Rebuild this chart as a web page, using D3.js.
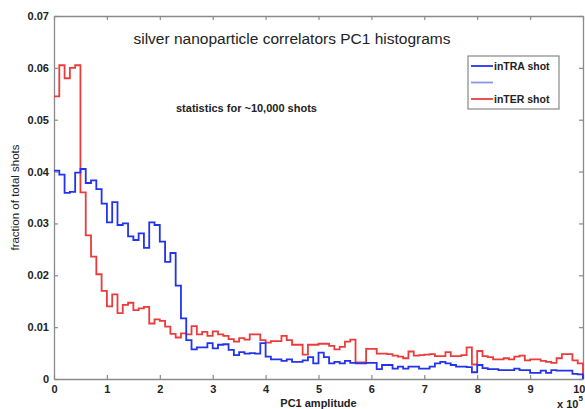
<!DOCTYPE html>
<html>
<head>
<meta charset="utf-8">
<script src="https://cdn.jsdelivr.net/npm/d3@7"></script>
<style>
  body { margin: 0; background: #fff; }
  text { font-family: "Liberation Sans", Arial, sans-serif; }
</style>
</head>
<body>
<div id="viz"></div>
<script>
// histogram bin width, in units of 1e5
const binWidth = 0.1;

// inTRA shot (blue), one value per bin starting at 0
const intraShot = [
  0.0402, 0.0394, 0.0359, 0.0361, 0.0398, 0.0405, 0.0378, 0.0383, 0.0366, 0.0338,
  0.0302, 0.0341, 0.0297, 0.0300, 0.0275, 0.0268, 0.0281, 0.0253, 0.0302, 0.0297,
  0.0265, 0.0226, 0.0243, 0.0180, 0.0117, 0.0075, 0.0057, 0.0061, 0.0061, 0.0069,
  0.0059, 0.0066, 0.0067, 0.0056, 0.0046, 0.0052, 0.0049, 0.0050, 0.0049, 0.0069,
  0.0043, 0.0038, 0.0038, 0.0035, 0.0038, 0.0033, 0.0033, 0.0036, 0.0042, 0.0030,
  0.0051, 0.0042, 0.0030, 0.0033, 0.0030, 0.0035, 0.0031, 0.0030, 0.0030, 0.0031,
  0.0031, 0.0019, 0.0027, 0.0027, 0.0020, 0.0024, 0.0020, 0.0024, 0.0024, 0.0020,
  0.0020, 0.0024, 0.0030, 0.0033, 0.0030, 0.0027, 0.0024, 0.0024, 0.0023, 0.0013,
  0.0027, 0.0021, 0.0019, 0.0019, 0.0017, 0.0017, 0.0017, 0.0020, 0.0017, 0.0017,
  0.0012, 0.0012, 0.0016, 0.0012, 0.0017, 0.0016, 0.0016, 0.0016, 0.0010, 0.0009
];

// inTER shot (red)
const interShot = [
  0.0545, 0.0605, 0.0580, 0.0600, 0.0605, 0.0360, 0.0277, 0.0236, 0.0202, 0.0170,
  0.0140, 0.0163, 0.0127, 0.0143, 0.0147, 0.0133, 0.0136, 0.0139, 0.0107, 0.0115,
  0.0112, 0.0101, 0.0087, 0.0080, 0.0088, 0.0086, 0.0102, 0.0086, 0.0091, 0.0083,
  0.0092, 0.0086, 0.0083, 0.0077, 0.0072, 0.0079, 0.0076, 0.0086, 0.0086, 0.0075,
  0.0070, 0.0073, 0.0073, 0.0083, 0.0075, 0.0066, 0.0066, 0.0047, 0.0066, 0.0066,
  0.0068, 0.0068, 0.0064, 0.0057, 0.0062, 0.0072, 0.0076, 0.0032, 0.0032, 0.0058,
  0.0058, 0.0049, 0.0049, 0.0048, 0.0045, 0.0043, 0.0040, 0.0053, 0.0045, 0.0046,
  0.0047, 0.0048, 0.0044, 0.0044, 0.0052, 0.0044, 0.0044, 0.0046, 0.0061, 0.0028,
  0.0054, 0.0044, 0.0042, 0.0038, 0.0038, 0.0040, 0.0038, 0.0043, 0.0045, 0.0036,
  0.0038, 0.0038, 0.0035, 0.0033, 0.0031, 0.0040, 0.0048, 0.0048, 0.0036, 0.0030
];

const xTicks = [0, 1, 2, 3, 4, 5, 6, 7, 8, 9, 10];
const yTicks = [0, 0.01, 0.02, 0.03, 0.04, 0.05, 0.06, 0.07];
const legendLabels = ["inTRA shot", "", "inTER shot"];

const W = 585, H = 409;
const margin = { top: 16, right: 2, bottom: 30, left: 54 };
const width = W - margin.left - margin.right,
  height = H - margin.top - margin.bottom;

const svg = d3.select("#viz")
  .append("svg")
  .attr("width", W)
  .attr("height", H);

const g = svg.append("g")
  .attr("transform", `translate(${margin.left},${margin.top})`);

const x = d3.scaleLinear().domain([0, 10]).range([0, width]);
const y = d3.scaleLinear().domain([0, 0.07]).range([height, 0]);

// axes (MATLAB style box, ticks pointing inward)
const axisColor = "#8a8a8a";

function styleAxis(sel) {
  sel.select(".domain").attr("stroke", axisColor).attr("stroke-width", 1.3);
  sel.selectAll(".tick line").attr("stroke", axisColor).attr("stroke-width", 1.2);
  sel.selectAll(".tick text")
    .attr("fill", "#222")
    .style("font-size", "11px")
    .style("font-weight", "bold");
}

g.append("g")
  .attr("transform", `translate(0,${height})`)
  .call(d3.axisBottom(x).tickValues(xTicks).tickSize(-4).tickSizeOuter(0).tickPadding(6))
  .call(styleAxis)
  // last label sits against the window edge, keep it inside
  .selectAll(".tick text")
  .filter(d => d === 10)
  .attr("text-anchor", "end")
  .attr("x", 2);

g.append("g")
  .call(d3.axisTop(x).tickValues(xTicks).tickSize(-4).tickSizeOuter(0).tickFormat(""))
  .call(styleAxis);

g.append("g")
  .call(d3.axisLeft(y).tickValues(yTicks).tickSize(-4).tickSizeOuter(0).tickPadding(5)
    .tickFormat(d => d === 0 ? "0" : d3.format(".2f")(d)))
  .call(styleAxis);

g.append("g")
  .attr("transform", `translate(${width},0)`)
  .call(d3.axisRight(y).tickValues(yTicks).tickSize(-4).tickSizeOuter(0).tickFormat(""))
  .call(styleAxis);

// stairs
const line = d3.line()
  .x(d => x(d[0]))
  .y(d => y(d[1]))
  .curve(d3.curveStepAfter);

function stairs(values) {
  const pts = values.map((v, i) => [i * binWidth, v]);
  pts.push([values.length * binWidth, values[values.length - 1]]);
  pts.push([values.length * binWidth, 0]);
  return pts;
}

const series = [
  { values: interShot, color: "#ec3b3b" },
  { values: intraShot, color: "#2233ee" }
];

g.selectAll("path.hist")
  .data(series)
  .enter()
  .append("path")
  .attr("class", "hist")
  .attr("d", d => line(stairs(d.values)))
  .attr("fill", "none")
  .attr("stroke", d => d.color)
  .attr("stroke-width", 1.8)
  .attr("stroke-linejoin", "miter");

// titles
svg.append("text")
  .attr("x", 292)
  .attr("y", 44)
  .attr("text-anchor", "middle")
  .style("font-size", "15.5px")
  .attr("fill", "#222")
  .text("silver nanoparticle correlators PC1 histograms");

svg.append("text")
  .attr("x", 176)
  .attr("y", 112)
  .style("font-size", "11px")
  .style("font-weight", "bold")
  .attr("fill", "#222")
  .text("statistics for ~10,000 shots");

svg.append("text")
  .attr("x", margin.left + width / 2)
  .attr("y", 407)
  .attr("text-anchor", "middle")
  .style("font-size", "11px")
  .style("font-weight", "bold")
  .attr("fill", "#222")
  .text("PC1 amplitude");

svg.append("text")
  .attr("transform", `translate(19,${margin.top + height / 2}) rotate(-90)`)
  .attr("text-anchor", "middle")
  .style("font-size", "11.5px")
  .attr("fill", "#222")
  .text("fraction of total shots");

const expo = svg.append("text")
  .attr("x", 557)
  .attr("y", 408)
  .style("font-size", "11px")
  .style("font-weight", "bold")
  .attr("fill", "#222");
expo.append("tspan").text("x 10");
expo.append("tspan").attr("dy", -7).style("font-size", "8px").text("5");

// legend
const legend = svg.append("g").attr("transform", "translate(468,56)");
legend.append("rect")
  .attr("width", 91)
  .attr("height", 53)
  .attr("fill", "#fff")
  .attr("stroke", "#888")
  .attr("stroke-width", 1.2);

const legendColors = ["#2233ee", "#8a96ee", "#ec3b3b"];
const items = legend.selectAll("g.item")
  .data(legendLabels)
  .enter()
  .append("g")
  .attr("class", "item")
  .attr("transform", (d, i) => `translate(0,${10 + i * 16.5})`);

items.append("line")
  .attr("x1", 3).attr("x2", 25)
  .attr("stroke", (d, i) => legendColors[i])
  .attr("stroke-width", 1.8);

items.append("text")
  .attr("x", 26)
  .attr("y", 4)
  .style("font-size", "10.5px")
  .style("font-weight", "bold")
  .attr("fill", "#222")
  .text(d => d);
</script>
</body>
</html>
